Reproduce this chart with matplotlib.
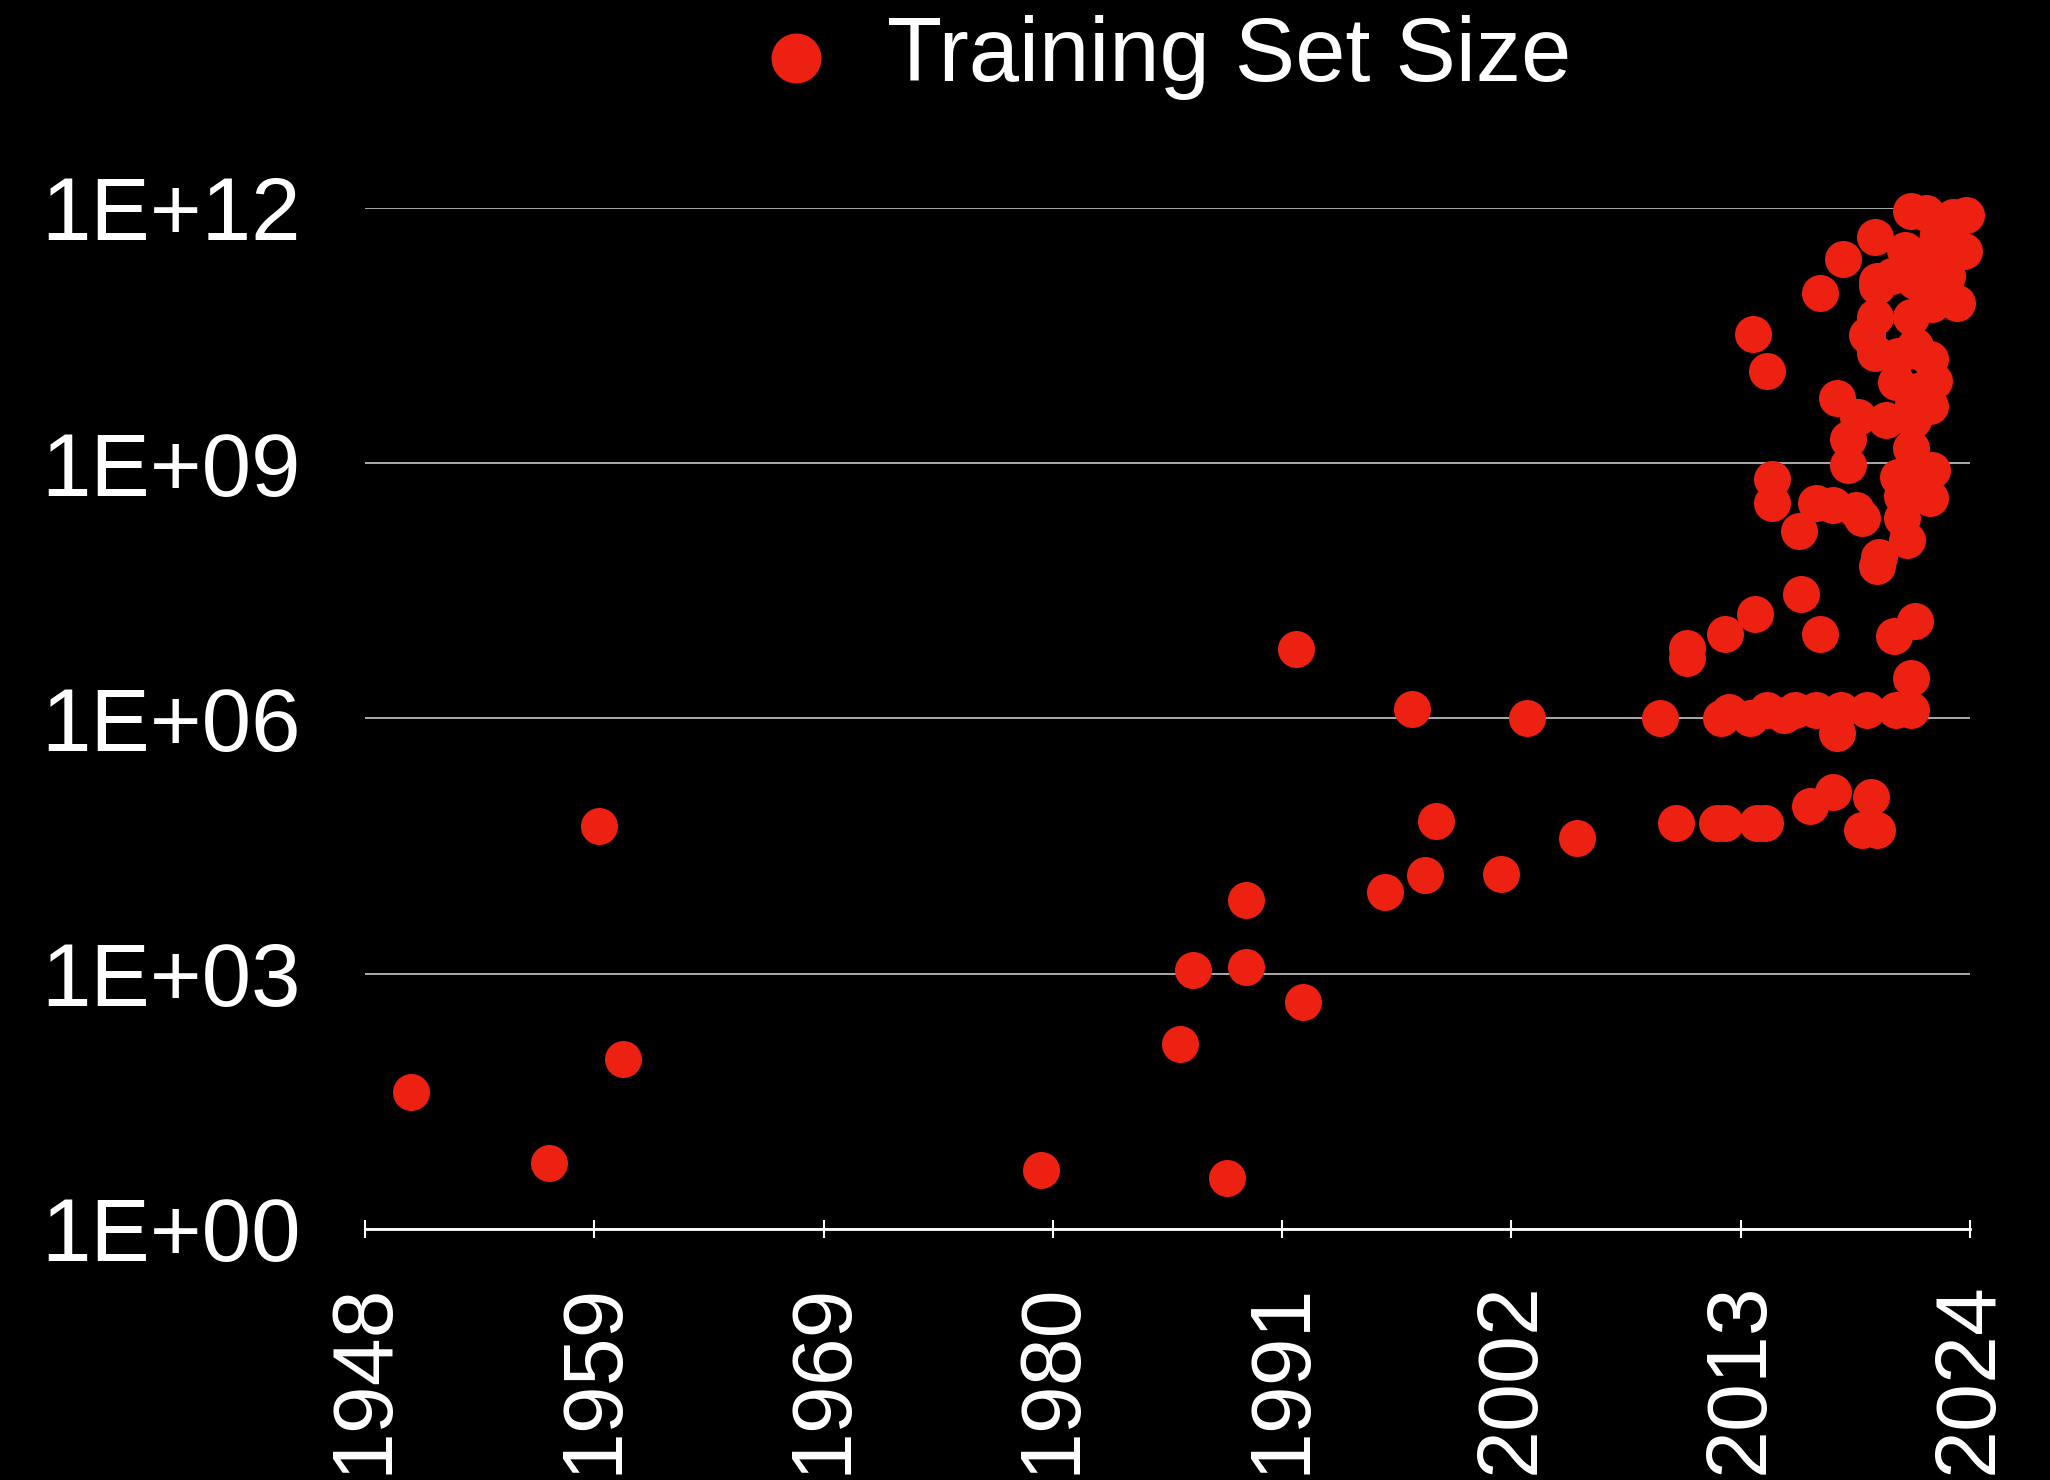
"""训练集规模随年份变化（对数坐标散点图）"""

import matplotlib
matplotlib.use("Agg")
import matplotlib.pyplot as plt
import numpy as np
from matplotlib.ticker import NullLocator

# 年份与训练集规模
years = [
    1950.2, 1956.7, 1959.1, 1960.2, 1980.0, 1986.6, 1987.2, 1988.8, 1989.7, 1989.7,
    1992.1, 1992.4, 1996.3, 1997.6, 1998.2, 1998.7, 2001.8, 2003.0, 2005.4, 2009.3,
    2010.1, 2010.6, 2010.6, 2012.0, 2012.2, 2012.4, 2012.4, 2012.6, 2013.6, 2013.7,
    2013.8, 2013.9, 2014.3, 2014.4, 2014.4, 2014.6, 2014.6, 2015.2, 2015.7, 2015.9,
    2016.0, 2016.4, 2016.7, 2016.7, 2016.9, 2016.9, 2017.5, 2017.5, 2017.7, 2017.7,
    2017.9, 2018.0, 2018.2, 2018.2, 2018.6, 2018.7, 2018.9, 2018.9, 2019.1, 2019.1,
    2019.3, 2019.5, 2019.5, 2019.5, 2019.6, 2019.6, 2019.7, 2019.6, 2019.6, 2020.0,
    2020.4, 2020.5, 2020.5, 2020.6, 2020.6, 2020.8, 2020.8, 2021.0, 2021.2, 2021.2,
    2021.2, 2021.2, 2021.2, 2021.2, 2021.3, 2021.3, 2021.4, 2021.4, 2021.4, 2021.5,
    2021.6, 2021.7, 2021.9, 2022.1, 2022.1, 2022.1, 2022.1, 2022.2, 2022.2, 2022.3,
    2022.7, 2023.2, 2023.4, 2023.7, 2023.8, 2020.3, 2020.9, 2022.5, 2022.9, 2023.0,
]
train_sizes = [
    4.1e1, 6, 5.4e4, 1.0e2, 5, 1.5e2, 1.1e3, 4, 7.4e3, 1.2e3,
    6.5e6, 4.6e2, 9.1e3, 1.3e6, 1.45e4, 6.2e4, 1.5e4, 1.0e6, 3.9e4, 1.0e6,
    5.9e4, 6.8e6, 5.1e6, 5.9e4, 1.0e6, 5.9e4, 9.8e6, 1.2e6, 1.0e6, 3.3e10,
    1.7e7, 5.9e4, 5.9e4, 1.25e6, 1.2e10, 6.5e8, 3.4e8, 1.1e6, 1.25e6, 1.6e8,
    2.9e7, 9.3e4, 1.25e6, 3.4e8, 9.8e6, 1.0e11, 1.35e5, 3.2e8, 6.8e5, 5.8e9,
    1.25e6, 2.5e11, 9.5e8, 1.9e9, 2.8e8, 3.5e9, 2.3e8, 4.9e4, 1.25e6, 3.2e10,
    1.2e5, 4.6e11, 5.2e10, 2.0e10, 4.9e4, 6.2e7, 7.9e7, 1.4e11, 1.2e11, 3.2e9,
    9.3e6, 1.25e6, 8.9e9, 6.9e8, 1.8e10, 2.3e8, 4.1e8, 1.26e8, 1.25e6, 3.0e6,
    1.5e9, 9.1e11, 2.2e11, 5.2e10, 3.2e9, 4.9e9, 1.4e7, 1.4e11, 2.4e10, 2.1e10,
    8.7e8, 7.2e9, 8.7e11, 3.0e11, 3.9e8, 1.7e10, 4.7e9, 8.3e8, 7.4e10, 9.3e9,
    2.6e11, 7.9e11, 7.6e10, 3.1e11, 8.3e11, 1.6e11, 3.2e11, 5.0e11, 1.6e11, 4.0e11,
]

series_label = "Training Set Size"
x_tick_labels = ["1948", "1959", "1969", "1980", "1991", "2002", "2013", "2024"]
y_tick_values = [1, 1e3, 1e6, 1e9, 1e12]
y_tick_labels = ["1E+00", "1E+03", "1E+06", "1E+09", "1E+12"]

RED = "#ed2112"

plt.rcParams['font.family'] = ['Liberation Sans', 'DejaVu Sans']

fig = plt.figure(figsize=(20.5, 14.8), dpi=100, facecolor="black")
ax = fig.add_axes([0.178, 0.1696, 0.783, 0.6899])
ax.set_facecolor("black")

ax.scatter(years, train_sizes, s=710, color=RED, linewidths=0,
           clip_on=False, zorder=3, label=series_label)

# 坐标轴
ax.set_yscale("log")
ax.set_xlim(1948, 2024)
ax.set_ylim(1, 1e12)
ax.set_xticks(np.linspace(1948, 2024, len(x_tick_labels)))
ax.set_xticklabels(x_tick_labels, rotation=90)
ax.set_yticks(y_tick_values)
ax.set_yticklabels(y_tick_labels)
ax.yaxis.set_minor_locator(NullLocator())
ax.xaxis.set_minor_locator(NullLocator())

ax.tick_params(axis="x", direction="inout", length=13, width=1.5,
               colors="white", labelsize=62, pad=32)
ax.tick_params(axis="y", length=0, labelcolor="white", labelsize=64, pad=46)

for side in ("top", "right", "left"):
    ax.spines[side].set_visible(False)
ax.spines["bottom"].set_color("white")
ax.spines["bottom"].set_linewidth(2)

ax.yaxis.grid(True, color="#c8c8c8", linewidth=1.2)
ax.set_axisbelow(True)

# 图例放在顶部居中
ax.legend(loc="center", bbox_to_anchor=(0.496, 1.147), frameon=False,
          fontsize=65, labelcolor="white", markerscale=1.35,
          handlelength=1.0, handletextpad=0.5, scatterpoints=1)

fig.savefig("out.png", dpi=100, facecolor="black")
